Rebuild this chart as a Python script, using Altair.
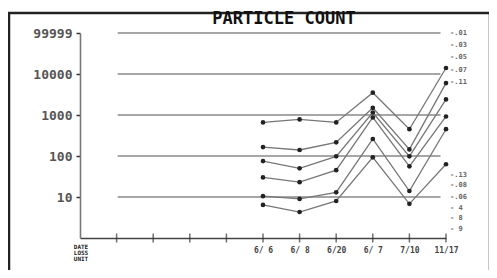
import altair as alt
import pandas as pd

# ---- data ----
tick_labels = ["", "", "", "", "", "6/ 6", "6/ 8", "6/20", "6/ 7", "7/10", "11/17"]
tick_idx = list(range(1, 11))
x_idx = [5, 6, 7, 8, 9, 10]
series_names = ["A", "B", "C", "D", "E", "F"]
series_values = {
    "A": [660, 780, 660, 3500, 450, 14000],
    "B": [165, 140, 215, 1500, 145, 6000],
    "C": [75, 50, 98, 1150, 98, 2400],
    "D": [30, 23, 45, 870, 56, 920],
    "E": [10.5, 9, 13, 260, 14, 450],
    "F": [6.4, 4.3, 8, 93, 6.8, 63],
}
y_ticks = [10, 100, 1000, 10000, 99999]
grid_vals = [10, 100, 1000, 10000, 99999]
side_labels = ["-.01", "-.03", "-.05", "-.07", "-.11",
               "-.13", "-.08", "-.06", "- 4", "- 8", "- 9"]
side_levels = [100000, 51000, 26000, 12500, 6300, 35, 20, 10, 5.4, 3.1, 1.7]
corner_text = "DATE\nLOSS\nUNIT"
title_text = "PARTICLE COUNT"

rows = []
for s in series_names:
    for xi, v in zip(x_idx, series_values[s]):
        rows.append({"series": s, "x": xi, "v": v})
df = pd.DataFrame(rows)

W, H = 366, 205
xscale = alt.Scale(domain=[0, 10], nice=False, zero=False)
yscale = alt.Scale(type="log", domain=[1, 100000], nice=False)

label_expr = "[" + ",".join("'" + t + "'" for t in tick_labels) + "][datum.value]"

xaxis = alt.Axis(values=tick_idx, labelExpr=label_expr, title=None,
                 grid=False, domainColor="#444", domainWidth=1.6,
                 ticks=False,
                 labelOverlap=False, labelFlush=False,
                 labelFont="DejaVu Sans Mono", labelFontSize=8, labelFontWeight="bold",
                 labelColor="#444", labelPadding=8)
yaxis = alt.Axis(values=y_ticks, labelExpr="format(datum.value, 'd')", title=None,
                 grid=False, domainColor="#777", domainWidth=1.6,
                 labelOverlap=False, labelFlush=False,
                 tickColor="#333", tickSize=4, tickWidth=1.5,
                 labelFont="DejaVu Sans Mono", labelFontSize=13, labelFontWeight="bold",
                 labelColor="#555", labelPadding=4)

lines = alt.Chart(df).mark_line(color="#777", strokeWidth=1.3).encode(
    x=alt.X("x:Q", scale=xscale, axis=xaxis), y=alt.Y("v:Q", scale=yscale, axis=yaxis),
    detail="series:N",
)
points = alt.Chart(df).mark_point(filled=True, color="#222", size=22, opacity=1).encode(
    x=alt.X("x:Q", scale=xscale, axis=xaxis), y=alt.Y("v:Q", scale=yscale, axis=yaxis),
    detail="series:N",
)

grid_df = pd.DataFrame({"g": grid_vals})
grid = alt.Chart(grid_df).mark_rule(color="#888", strokeWidth=1.3).encode(
    x=alt.datum(1.03, scale=xscale, axis=xaxis), x2=alt.datum(9.85),
    y=alt.Y("g:Q", scale=yscale, axis=yaxis),
)

xt_df = pd.DataFrame({"i": tick_idx})
xticks = alt.Chart(xt_df).mark_tick(color="#333", thickness=1.5, size=9, orient="vertical").encode(
    x=alt.X("i:Q", scale=xscale, axis=xaxis), y=alt.value(H),
)

side_df = pd.DataFrame({"t": side_labels, "lv": side_levels})
side = alt.Chart(side_df).mark_text(font="DejaVu Sans Mono", fontSize=7, fontWeight="bold",
                                    color="#666", align="left", dx=4).encode(
    x=alt.datum(10, scale=xscale, axis=xaxis), y=alt.Y("lv:Q", scale=yscale, axis=yaxis),
    text="t:N",
)

one = alt.Data(values=[{}])
frame = alt.Chart(one).mark_rect(filled=False, stroke="#222", strokeWidth=2.5).encode(
    x=alt.value(-71), x2=alt.value(410), y=alt.value(-20), y2=alt.value(242),
)
title = alt.Chart(one).mark_text(text=title_text, font="DejaVu Sans Mono", fontSize=17,
                                 fontWeight="bold", color="#111").encode(
    x=alt.value(204), y=alt.value(-14),
)
corner = alt.Chart(one).mark_text(text=corner_text, lineBreak="\n", font="DejaVu Sans Mono",
                                  fontSize=6, fontWeight="bold", color="#222",
                                  baseline="top", lineHeight=6).encode(
    x=alt.value(1), y=alt.value(211),
)

chart = alt.layer(grid, lines, points, xticks, side, frame, title, corner).properties(
    width=W, height=H,
    autosize=alt.AutoSizeParams(type="none"),
    padding={"left": 72, "top": 25, "right": 43, "bottom": 32},
).configure_view(stroke=None)

chart.save("out.html", embed_options={"renderer": "svg", "actions": False})
